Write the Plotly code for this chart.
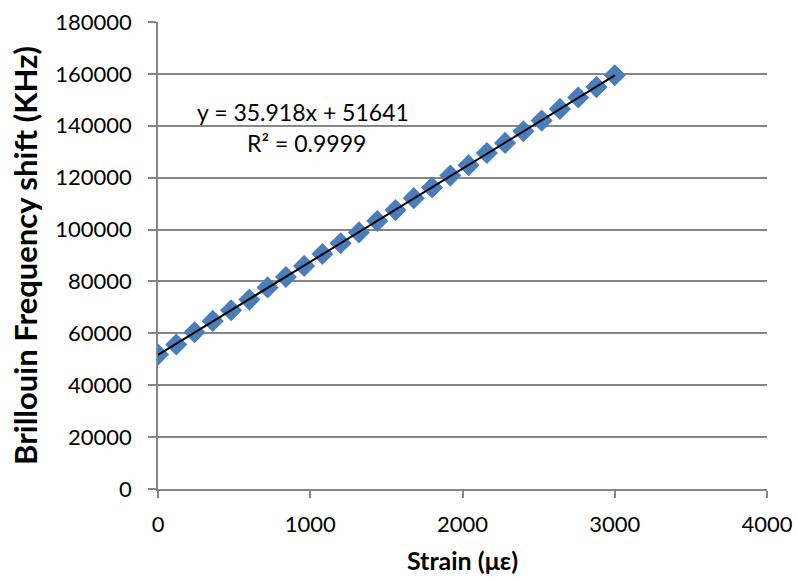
import plotly.graph_objects as go

# Strain steps (microstrain) and measured Brillouin frequency shift (kHz)
strain = [0, 120, 240, 360, 480, 600, 720, 840, 960, 1080, 1200, 1320, 1440,
          1560, 1680, 1800, 1920, 2040, 2160, 2280, 2400, 2520, 2640, 2760, 2880, 3000]
shift_khz = [51800, 55700, 60400, 64800, 68900, 73000, 77700, 81700, 86000, 90600,
             94700, 98900, 103300, 107500, 112100, 116200, 120800, 124800, 129500,
             133400, 137900, 142000, 146500, 150900, 154900, 159500]

# Linear trendline coefficients
slope = 35.918
intercept = 51641
r_squared = 0.9999

y_ticks = [0, 20000, 40000, 60000, 80000, 100000, 120000, 140000, 160000, 180000]
x_ticks = [0, 1000, 2000, 3000, 4000]

FONT = "Lato"
GRID = "#868686"

fit_x = [min(strain), max(strain)]
fit_y = [slope * v + intercept for v in fit_x]

fig = go.Figure()
fig.add_trace(go.Scatter(
    x=strain, y=shift_khz, mode="markers",
    marker=dict(symbol="diamond", size=17, color="#4A7EBB",
                line=dict(width=0)),
    showlegend=False,
))
fig.add_trace(go.Scatter(
    x=fit_x, y=fit_y, mode="lines",
    line=dict(color="black", width=2),
    showlegend=False,
))

fig.add_annotation(
    x=0.061, y=0.807, xref="paper", yref="paper",
    text=f"y = {slope}x + {intercept}", showarrow=False,
    xanchor="left", yanchor="middle",
    font=dict(family=FONT, size=23, color="black"),
)
fig.add_annotation(
    x=0.143, y=0.741, xref="paper", yref="paper",
    text=f"R² = {r_squared}", showarrow=False,
    xanchor="left", yanchor="middle",
    font=dict(family=FONT, size=23, color="black"),
)

fig.update_layout(
    width=797, height=579,
    margin=dict(l=158, r=30, t=22, b=90),
    paper_bgcolor="white", plot_bgcolor="white",
    font=dict(family=FONT, color="black"),
    xaxis=dict(
        range=[0, 4000], tickvals=x_ticks, ticktext=[str(v) for v in x_ticks],
        showgrid=False, zeroline=False, automargin=False,
        showline=True, linecolor=GRID, linewidth=1.5,
        ticks="outside", ticklen=7, tickcolor=GRID, tickwidth=1.5,
        ticklabelstandoff=8,
        tickfont=dict(family=FONT, size=22),
        title=dict(text="<b>Strain (με)</b>", font=dict(family=FONT, size=25),
                   standoff=16),
    ),
    yaxis=dict(
        range=[0, 180000], tickvals=y_ticks, ticktext=[str(v) for v in y_ticks],
        showgrid=True, gridcolor=GRID, gridwidth=1.5, zeroline=False,
        automargin=False,
        showline=True, linecolor=GRID, linewidth=1.5,
        ticks="outside", ticklen=8, tickcolor=GRID, tickwidth=1.5,
        ticklabelstandoff=12,
        tickfont=dict(family=FONT, size=22),
        title=dict(text="<b>Brillouin Frequency shift (KHz)</b>",
                   font=dict(family=FONT, size=31), standoff=8),
    ),
)

fig.write_html("out.html")
